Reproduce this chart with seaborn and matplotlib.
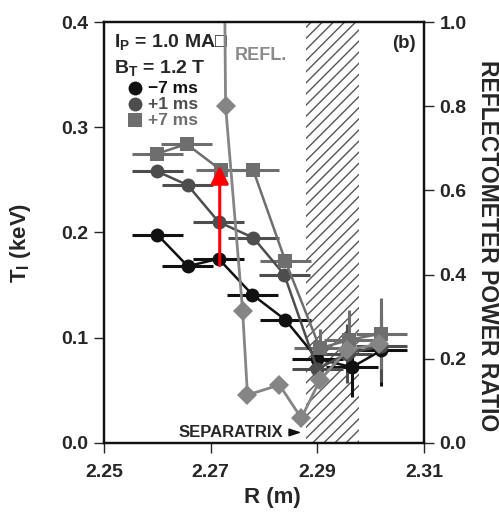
import matplotlib

matplotlib.use("Agg")
import matplotlib.pyplot as plt
import pandas as pd
import seaborn as sns

# radius (m) and ion temperature (keV) for the three times
r_m7 = [2.2600, 2.2657, 2.2715, 2.2778, 2.2840, 2.2900, 2.2965, 2.3020]
ti_m7 = [0.198, 0.168, 0.175, 0.141, 0.117, 0.080, 0.072, 0.088]
r_p1 = [2.2600, 2.2657, 2.2715, 2.2780, 2.2838, 2.2900, 2.2955, 2.3020]
ti_p1 = [0.258, 0.245, 0.210, 0.195, 0.160, 0.070, 0.085, 0.092]
r_p7 = [2.2600, 2.2655, 2.2720, 2.2780, 2.2840, 2.2905, 2.2960, 2.3020]
ti_p7 = [0.275, 0.284, 0.259, 0.259, 0.173, 0.090, 0.098, 0.104]
r_err = 0.0048
ti_err_edge = [0.0, 0.0, 0.0, 0.0, 0.0, 0.018, 0.028, 0.034]

# reflectometer power ratio (right axis)
r_refl = [2.2725, 2.2728, 2.2760, 2.2769, 2.2829, 2.2870, 2.2905, 2.2955, 2.3015]
refl = [1.25, 0.80, 0.313, 0.114, 0.138, 0.059, 0.150, 0.220, 0.235]

sep_lo, sep_hi = 2.2878, 2.2979

sns.set_theme(style="ticks")
fam = ["Liberation Sans Narrow", "Liberation Sans", "DejaVu Sans"]
plt.rcParams["font.family"] = fam
plt.rcParams["font.weight"] = "bold"

fig = plt.figure(figsize=(4.99, 5.12), dpi=100)
ax = fig.add_axes([0.2084, 0.1348, 0.6413, 0.8222])
ax2 = ax.twinx()

ax.axvspan(sep_lo, sep_hi, facecolor="none", edgecolor="#555555", hatch="///", lw=0, zorder=0)

series = [
    (r_m7, ti_m7, "#111111", "o", "\u22127 ms"),
    (r_p1, ti_p1, "#4d4d4d", "o", "+1 ms"),
    (r_p7, ti_p7, "#6e6e6e", "s", "+7 ms"),
]
for r, ti, col, mk, lab in series:
    df = pd.DataFrame({"R": r, "Ti": ti})
    ax.errorbar(df["R"], df["Ti"], xerr=r_err, yerr=ti_err_edge, fmt="none",
                ecolor=col, elinewidth=2.2, capsize=0, zorder=2)
    sns.lineplot(data=df, x="R", y="Ti", ax=ax, color=col, marker=mk, markersize=10,
                 markeredgewidth=0, linewidth=1.8, sort=False, zorder=3, label=lab, legend=False)

dfr = pd.DataFrame({"R": r_refl, "P": refl})
sns.lineplot(data=dfr, x="R", y="P", ax=ax2, color="#858585", marker="D", markersize=10,
             markeredgewidth=0, linewidth=2, sort=False, legend=False)

ax.annotate("", xy=(2.2717, 0.266), xytext=(2.2717, 0.166),
            arrowprops=dict(arrowstyle="-|>,head_width=0.45,head_length=0.9", color="red", lw=2.2),
            zorder=6)
ax.annotate("SEPARATRIX", xy=(2.2875, 0.010), xytext=(2.2836, 0.010), ha="right", va="center",
            fontsize=12, fontweight="bold",
            arrowprops=dict(arrowstyle="-|>,head_width=0.2,head_length=0.6", color="#111111", lw=1))

ax.set_xlim(2.25, 2.31)
ax.set_ylim(0, 0.4)
ax2.set_ylim(0, 1.0)
ax.set_xticks([2.25, 2.27, 2.29, 2.31])
ax.set_xticklabels(["2.25", "2.27", "2.29", "2.31"])
ax.set_yticks([0.0, 0.1, 0.2, 0.3, 0.4])
ax2.set_yticks([0.0, 0.2, 0.4, 0.6, 0.8, 1.0])
for a in (ax, ax2):
    a.tick_params(labelsize=14, width=1, length=7, direction="out", pad=4)
    for s in a.spines.values():
        s.set_linewidth(1.6)
        s.set_color("#111111")
ax.tick_params(axis="x", pad=8)
ax.set_xlabel("R (m)", fontsize=16, fontweight="bold")
ax.xaxis.set_label_coords(0.525, -0.105)
ax.set_ylabel("T$_\\mathregular{I}$ (keV)", fontsize=16, fontweight="bold")
ax.yaxis.set_label_coords(-0.222, 0.475)
ax2.set_ylabel("REFLECTOMETER POWER RATIO", fontsize=16.5, fontweight="bold", rotation=-90,
               va="center")
ax2.yaxis.set_label_coords(1.197, 0.47)

ax.text(0.03, 0.975, "I$_\\mathregular{P}$ = 1.0 MA\u25a1", transform=ax.transAxes, fontsize=14,
        fontweight="bold", va="top")
ax.text(0.03, 0.913, "B$_\\mathregular{T}$ = 1.2 T", transform=ax.transAxes, fontsize=14,
        fontweight="bold", va="top")
ax.text(0.975, 0.97, "(b)", transform=ax.transAxes, fontsize=13.5, fontweight="bold",
        ha="right", va="top")
ax.text(0.41, 0.94, "REFL.", transform=ax.transAxes, fontsize=13, fontweight="bold",
        color="#8a8a8a", va="top")
for i, (r, ti, col, mk, lab) in enumerate(series):
    yy = 0.843 - i * 0.038
    ax.plot([0.097], [yy], transform=ax.transAxes, marker=mk, color=col, markersize=10,
            markeredgewidth=0, ls="none")
    ax.text(0.137, yy, lab, transform=ax.transAxes, fontsize=12.5, fontweight="bold",
            color=col, va="center")

fig.savefig("out.png", dpi=100)
